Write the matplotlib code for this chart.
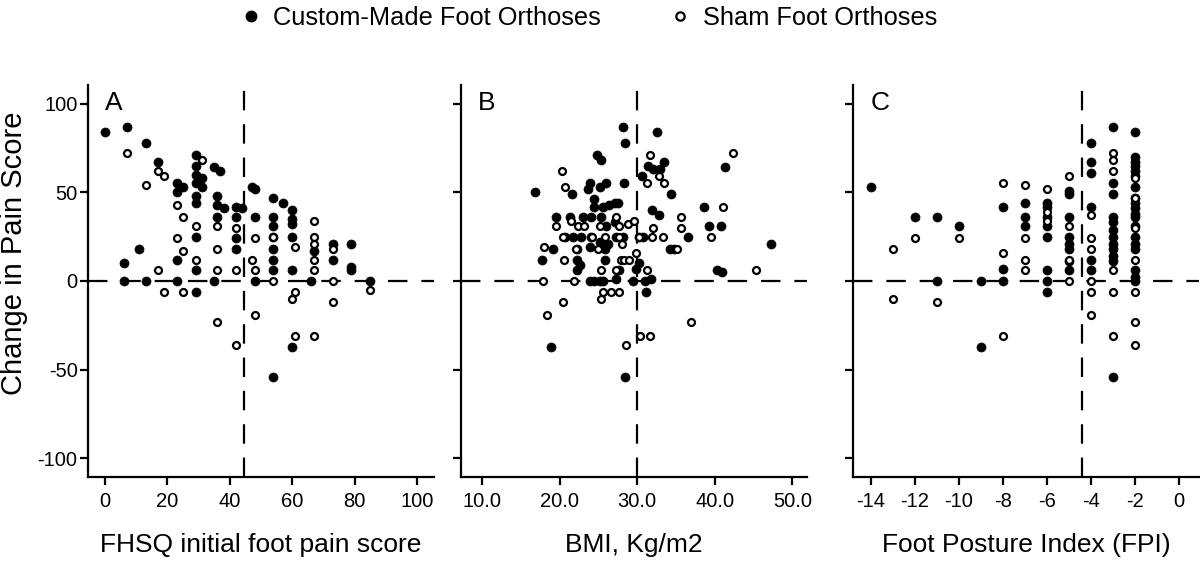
import numpy as np
import matplotlib
matplotlib.use("Agg")
import matplotlib.pyplot as plt
from matplotlib.lines import Line2D

plt.rcParams['font.family'] = ['Liberation Sans', 'DejaVu Sans']
plt.rcParams['lines.scale_dashes'] = False

# Panel A: FHSQ initial foot pain score vs change in pain score
a_custom_x = [0, 7, 13, 17, 29, 29, 35, 37, 29, 31, 23, 25, 29, 31, 23, 29, 36, 47, 48,
              54, 57, 42, 44, 36, 38, 60, 60, 60, 29, 36, 42, 48, 54, 54, 54, 60, 29, 42,
              42, 11, 54, 67, 73, 79, 73, 23, 6, 29, 54, 54, 60, 79, 79,
              6, 13, 23, 35, 48, 66, 85, 29, 60, 54]
a_custom_y = [84, 87, 78, 67, 71, 65, 64, 62, 60, 58, 55, 53, 55, 53, 50, 48, 48, 53, 52,
              47, 44, 42, 41, 43, 41, 40, 35, 32, 44, 36, 36, 36, 36, 31, 25, 25, 25, 24,
              18, 18, 18, 17, 21, 21, 12, 12, 10, 6, 12, 6, 6, 8, 6,
              0, 0, 0, 0, 0, 0, 0, -6, -37, -54]
a_sham_x = [7, 31, 17, 19, 13, 23, 25, 29, 36, 42, 67, 67, 67, 73, 23, 61, 48, 54, 25,
            36, 29, 47, 67, 17, 36, 42, 48, 67, 54, 73, 19, 25, 85, 61, 60, 73,
            36, 48, 42, 61, 67]
a_sham_y = [72, 68, 62, 59, 54, 43, 36, 31, 31, 30, 34, 25, 21, 18, 24, 19, 24, 25, 17,
            18, 12, 12, 12, 6, 6, 6, 6, 6, 0, 0, -6, -6, -5, -6, -10, -12,
            -23, -19, -36, -31, -31]

# Panel B: BMI vs change in pain score
b_custom_x = [28.2, 32.6, 28.5, 24.8, 25.4, 33.5, 31.4, 32.1, 33.0, 30.6, 41.3, 16.8, 21.6,
              23.9, 23.7, 25.2, 26.0, 28.3, 34.4, 24.4, 24.4, 25.6, 26.4, 27.2, 27.6, 38.6,
              31.9, 32.8, 19.6, 21.3, 23.0, 24.1, 25.4, 26.0, 27.2, 39.3, 40.8, 36.6,
              20.7, 21.8, 22.8, 24.1, 25.2, 26.2, 27.3, 28.2, 30.3, 30.7,
              19.1, 22.3, 25.9, 23.9, 34.2, 34.7, 47.2, 17.7, 22.3, 22.7, 22.3, 25.8,
              27.7, 29.9, 30.3, 40.3, 40.9,
              23.9, 24.5, 25.2, 25.6, 27.3, 29.5, 31.0, 31.8, 31.2, 18.9, 28.5]
b_custom_y = [87, 84, 78, 71, 68, 67, 65, 63, 63, 59, 64, 50, 49,
              55, 52, 53, 55, 55, 49, 46, 42, 42, 43, 44, 44, 42,
              40, 37, 36, 36, 36, 36, 36, 31, 33, 31, 31, 25,
              25, 25, 25, 25, 22, 21, 25, 25, 25, 25,
              18, 18, 18, 19, 18, 18, 21, 12, 12, 9, 6, 12,
              6, 7, 10, 6, 5,
              0, 0, 0, 0, 1, 0, 0, 1, -6, -37, -54]
b_sham_x = [42.3, 31.7, 20.3, 20.7, 31.3, 33.5, 32.8, 41.1, 35.7, 35.6, 39.5,
            19.6, 21.5, 22.4, 23.2, 25.2, 27.3, 27.7, 28.8, 29.6, 32.1,
            20.4, 24.2, 25.8, 27.7, 30.2, 31.9, 33.3,
            18.0, 20.6, 22.1, 24.9, 28.0, 29.8, 35.1, 27.9, 28.3, 28.9,
            25.3, 27.3, 31.3, 45.3, 17.9, 21.9, 25.6, 26.6, 27.7, 25.3, 20.5,
            18.4, 37.0, 30.4, 31.7, 28.6]
b_sham_y = [72, 71, 62, 53, 55, 55, 59, 42, 36, 30, 25,
            31, 34, 31, 31, 31, 36, 31, 32, 34, 30,
            25, 25, 25, 25, 25, 25, 25,
            19, 12, 18, 18, 21, 16, 18, 12, 12, 12,
            6, 6, 6, 6, 0, 0, -6, -6, -6, -10, -12,
            -19, -23, -31, -31, -36]

# Panel C: Foot Posture Index vs change in pain score
c_custom_x = [-14, -12, -11, -11, -10, -9, -9, -8, -8, -8, -7, -7, -7,
              -6, -6, -6, -6, -6, -6, -6, -6,
              -5, -5, -5, -5, -5, -5, -5, -5,
              -4, -4, -4, -4, -4, -4,
              -3, -3, -3, -3, -3, -3, -3, -3, -3, -3, -3, -3,
              -2, -2, -2, -2, -2, -2, -2, -2, -2, -2, -2, -2, -2, -2, -2, -2, -2, -2, -2]
c_custom_y = [53, 36, 36, 0, 31, 0, -37, 42, 7, 0, 44, 36, 31,
              44, 42, 36, 31, 25, 6, 0, -6,
              51, 49, 36, 25, 21, 18, 11, 6,
              78, 67, 61, 42, 12, 6,
              87, 55, 49, 36, 33, 29, 25, 21, 18, 14, 11, -54,
              84, 70, 67, 65, 62, 59, 53, 47, 44, 41, 38, 36, 31, 25, 21, 18, 6, 2, 0]
c_sham_x = [-13, -13, -12, -11, -10, -8, -8, -8, -7, -7, -7, -7,
            -6, -6, -6, -5, -5, -5, -5,
            -4, -4, -4, -4, -4, -4,
            -3, -3, -3, -3, -3, -3,
            -2, -2, -2, -2, -2, -2, -2]
c_sham_y = [18, -10, 24, -12, 24, 55, 16, -31, 54, 24, 12, 6,
            52, 39, 34, 59, 31, 12, 0,
            37, 24, 18, 0, -6, -19,
            72, 68, 62, 6, -6, -31,
            58, 47, 30, 12, -6, -23, -36]

panels = [
    ("A", a_custom_x, a_custom_y, a_sham_x, a_sham_y, 44.5, (-5.5, 105.5),
     [0, 20, 40, 60, 80, 100], ["0", "20", "40", "60", "80", "100"],
     "FHSQ initial foot pain score"),
    ("B", b_custom_x, b_custom_y, b_sham_x, b_sham_y, 30.0, (7.3, 51.9),
     [10, 20, 30, 40, 50], ["10.0", "20.0", "30.0", "40.0", "50.0"],
     "BMI, Kg/m2"),
    ("C", c_custom_x, c_custom_y, c_sham_x, c_sham_y, -4.4, (-14.8, 0.9),
     [-14, -12, -10, -8, -6, -4, -2, 0], ["-14", "-12", "-10", "-8", "-6", "-4", "-2", "0"],
     "Foot Posture Index (FPI)"),
]

fig = plt.figure(figsize=(12, 5.64), dpi=100)
lefts = [88 / 1200, 461 / 1200, 853 / 1200]
bottom = 1 - 477 / 564
height = (477 - 85) / 564
width = 346 / 1200

dash = (14, 10)
for i, (letter, cx, cy, sx, sy, vline, xlim, xt, xtl, xlabel) in enumerate(panels):
    ax = fig.add_axes([lefts[i], bottom, width, height])
    ax.axhline(0, color='black', lw=1.6, dashes=dash, zorder=1)
    ax.axvline(vline, color='black', lw=1.6, dashes=dash, zorder=1)
    ax.plot(cx, cy, 'o', ms=6.5, mfc='black', mec='black', mew=0.5, ls='none', zorder=3)
    ax.plot(sx, sy, 'o', ms=5.0, mfc='white', mec='black', mew=1.6, ls='none', zorder=3)
    ax.set_xlim(*xlim)
    ax.set_ylim(-110.5, 110.5)
    ax.set_xticks(xt)
    ax.set_xticklabels(xtl)
    ax.set_yticks([-100, -50, 0, 50, 100])
    if i == 0:
        ax.set_yticklabels(["-100", "-50", "0", "50", "100"])
        ax.set_ylabel("Change in Pain Score", fontsize=21)
        ax.yaxis.set_label_coords(-0.174, 0.57)
    else:
        ax.set_yticklabels([])
    for side in ['top', 'right']:
        ax.spines[side].set_visible(False)
    for side in ['left', 'bottom']:
        ax.spines[side].set_linewidth(1.6)
    ax.tick_params(direction='out', length=6, width=1.6, labelsize=14.5)
    ax.tick_params(axis='x', pad=4.5)
    ax.tick_params(axis='y', pad=1.5)
    ax.set_xlabel(xlabel, fontsize=19, labelpad=16)
    ax.text(0.05, 0.985, letter, transform=ax.transAxes, fontsize=19, va='top', ha='left')

handles = [
    Line2D([], [], marker='o', ls='none', ms=7.5, mfc='black', mec='black'),
    Line2D([], [], marker='o', ls='none', ms=6, mfc='white', mec='black', mew=1.6),
]
fig.legend(handles, ["Custom-Made Foot Orthoses", "Sham Foot Orthoses"],
           loc='center', bbox_to_anchor=(0.4895, 1 - 18 / 564), ncol=2, frameon=False,
           fontsize=18.3, handletextpad=0.37, columnspacing=2.64, handlelength=1.0,
           borderpad=0.1)

fig.savefig("out.png", dpi=100)
